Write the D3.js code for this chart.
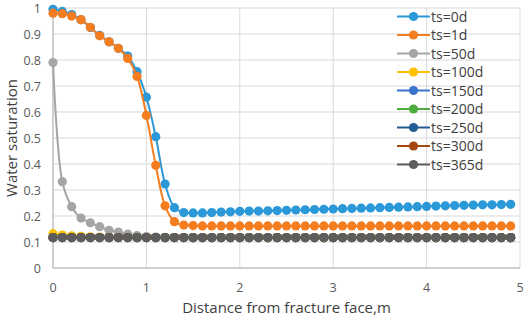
<!DOCTYPE html>
<html>
<head>
<meta charset="utf-8">
<script src="https://cdn.jsdelivr.net/npm/d3@7"></script>
<style>
  body { margin: 0; background: #fff; }
  svg { display: block; font-family: "Open Sans", "Noto Sans", sans-serif; }
</style>
</head>
<body>
<svg id="chart" width="526" height="317"></svg>
<script>
// distance from fracture face (m), one sample every 0.1 m
const distance = [0, 0.1, 0.2, 0.3, 0.4, 0.5, 0.6, 0.7, 0.8, 0.9,
  1.0, 1.1, 1.2, 1.3, 1.4, 1.5, 1.6, 1.7, 1.8, 1.9,
  2.0, 2.1, 2.2, 2.3, 2.4, 2.5, 2.6, 2.7, 2.8, 2.9,
  3.0, 3.1, 3.2, 3.3, 3.4, 3.5, 3.6, 3.7, 3.8, 3.9,
  4.0, 4.1, 4.2, 4.3, 4.4, 4.5, 4.6, 4.7, 4.8, 4.9];

const seriesNames = ["ts=0d", "ts=1d", "ts=50d", "ts=100d", "ts=150d", "ts=200d", "ts=250d", "ts=300d", "ts=365d"];
const seriesColors = ["#2b98d8", "#f47d20", "#a5a5a5", "#ffc000", "#3a74cc", "#4ead3e", "#225d93", "#a4470d", "#5d5d5d"];

const ts0 = [0.995, 0.987, 0.975, 0.955, 0.925, 0.895, 0.870, 0.845, 0.815, 0.755,
  0.657, 0.505, 0.323, 0.232, 0.213, 0.212, 0.212, 0.213, 0.215, 0.216,
  0.218, 0.219, 0.219, 0.220, 0.221, 0.222, 0.223, 0.224, 0.225, 0.226,
  0.227, 0.228, 0.229, 0.230, 0.231, 0.232, 0.233, 0.234, 0.235, 0.236,
  0.237, 0.238, 0.239, 0.240, 0.241, 0.242, 0.243, 0.243, 0.244, 0.245];
const ts1 = [0.980, 0.978, 0.969, 0.955, 0.926, 0.893, 0.870, 0.845, 0.806, 0.737,
  0.587, 0.395, 0.239, 0.178, 0.165, 0.163, 0.162, 0.162, 0.162, 0.162,
  0.162, 0.162, 0.162, 0.162, 0.162, 0.162, 0.162, 0.162, 0.162, 0.162,
  0.162, 0.162, 0.162, 0.162, 0.162, 0.162, 0.162, 0.162, 0.162, 0.162,
  0.162, 0.162, 0.162, 0.162, 0.162, 0.162, 0.162, 0.162, 0.162, 0.162];
const ts50 = [0.790, 0.332, 0.236, 0.192, 0.174, 0.159, 0.145, 0.138, 0.130, 0.125,
  0.121, 0.119, 0.118, 0.117, 0.117, 0.117, 0.117, 0.117, 0.117, 0.117,
  0.117, 0.117, 0.117, 0.117, 0.117, 0.117, 0.117, 0.117, 0.117, 0.117,
  0.117, 0.117, 0.117, 0.117, 0.117, 0.117, 0.117, 0.117, 0.117, 0.117,
  0.117, 0.117, 0.117, 0.117, 0.117, 0.117, 0.117, 0.117, 0.117, 0.117];
const ts100 = [0.132, 0.127, 0.124, 0.122, 0.120, 0.119, 0.118, 0.117, 0.117, 0.117,
  0.117, 0.117, 0.117, 0.117, 0.117, 0.117, 0.117, 0.117, 0.117, 0.117,
  0.117, 0.117, 0.117, 0.117, 0.117, 0.117, 0.117, 0.117, 0.117, 0.117,
  0.117, 0.117, 0.117, 0.117, 0.117, 0.117, 0.117, 0.117, 0.117, 0.117,
  0.117, 0.117, 0.117, 0.117, 0.117, 0.117, 0.117, 0.117, 0.117, 0.117];
// the later time steps all sit on the residual saturation
const tsLate = [0.117, 0.117, 0.117, 0.117, 0.117, 0.117, 0.117, 0.117, 0.117, 0.117,
  0.117, 0.117, 0.117, 0.117, 0.117, 0.117, 0.117, 0.117, 0.117, 0.117,
  0.117, 0.117, 0.117, 0.117, 0.117, 0.117, 0.117, 0.117, 0.117, 0.117,
  0.117, 0.117, 0.117, 0.117, 0.117, 0.117, 0.117, 0.117, 0.117, 0.117,
  0.117, 0.117, 0.117, 0.117, 0.117, 0.117, 0.117, 0.117, 0.117, 0.117];

const seriesValues = [ts0, ts1, ts50, ts100, tsLate, tsLate, tsLate, tsLate, tsLate];

const xTicks = [0, 1, 2, 3, 4, 5];
const yTicks = [0, 0.1, 0.2, 0.3, 0.4, 0.5, 0.6, 0.7, 0.8, 0.9, 1];

const W = 526, H = 317;
const M = { top: 8, right: 6, bottom: 49, left: 53 };

const svg = d3.select("#chart");
const x = d3.scaleLinear().domain([0, 5]).range([M.left, W - M.right]);
const y = d3.scaleLinear().domain([0, 1]).range([H - M.bottom, M.top]);

// gridlines
svg.append("g").selectAll("line.hgrid").data(yTicks.filter((d) => d > 0)).join("line")
  .attr("x1", x(0)).attr("x2", x(5))
  .attr("y1", (d) => y(d)).attr("y2", (d) => y(d))
  .attr("stroke", "#d9d9d9").attr("stroke-width", 1);
svg.append("g").selectAll("line.vgrid").data(xTicks.filter((d) => d > 0)).join("line")
  .attr("x1", (d) => x(d)).attr("x2", (d) => x(d))
  .attr("y1", y(0)).attr("y2", y(1))
  .attr("stroke", "#d9d9d9").attr("stroke-width", 1);

// axis lines
svg.append("line").attr("x1", x(0)).attr("x2", x(0)).attr("y1", y(0)).attr("y2", y(1))
  .attr("stroke", "#bfbfbf").attr("stroke-width", 1.5);
svg.append("line").attr("x1", x(0)).attr("x2", x(5)).attr("y1", y(0)).attr("y2", y(0))
  .attr("stroke", "#bfbfbf").attr("stroke-width", 1.5);

// tick labels
svg.append("g").selectAll("text").data(yTicks).join("text")
  .attr("x", 41).attr("y", (d) => y(d) + 4.5)
  .attr("text-anchor", "end").attr("font-size", 12.5).attr("fill", "#595959")
  .text((d) => d3.format("~g")(d));
svg.append("g").selectAll("text").data(xTicks).join("text")
  .attr("x", (d) => x(d)).attr("y", 292)
  .attr("text-anchor", "middle").attr("font-size", 12.5).attr("fill", "#595959")
  .text((d) => d);

// axis titles
svg.append("text")
  .attr("transform", `translate(17,${(y(0) + y(1)) / 2}) rotate(-90)`)
  .attr("text-anchor", "middle").attr("font-size", 15).attr("fill", "#404040")
  .text("Water saturation");
svg.append("text")
  .attr("x", (x(0) + x(5)) / 2).attr("y", 313)
  .attr("text-anchor", "middle").attr("font-size", 15).attr("fill", "#404040")
  .text("Distance from fracture face,m");

// series
const line = d3.line()
  .x((d, i) => x(distance[i]))
  .y((d) => y(d))
  .curve(d3.curveCatmullRom.alpha(0.5));

seriesValues.forEach((vals, s) => {
  const g = svg.append("g");
  g.append("path").datum(vals)
    .attr("d", line).attr("fill", "none")
    .attr("stroke", seriesColors[s]).attr("stroke-width", 2);
  g.selectAll("circle").data(vals).join("circle")
    .attr("cx", (d, i) => x(distance[i]))
    .attr("cy", (d) => y(d))
    .attr("r", 4.6)
    .attr("fill", seriesColors[s]);
});

// legend (no background, gridlines show through)
const legend = svg.append("g").selectAll("g").data(seriesNames).join("g")
  .attr("transform", (d, i) => `translate(0,${16.5 + i * 18.5})`);
legend.append("line").attr("x1", 397).attr("x2", 430).attr("y1", 0).attr("y2", 0)
  .attr("stroke", (d, i) => seriesColors[i]).attr("stroke-width", 2);
legend.append("circle").attr("cx", 413.5).attr("cy", 0).attr("r", 4.6)
  .attr("fill", (d, i) => seriesColors[i]);
legend.append("text").attr("x", 431).attr("y", 5)
  .attr("font-size", 14).attr("fill", "#404040")
  .text((d) => d);
</script>
</body>
</html>
